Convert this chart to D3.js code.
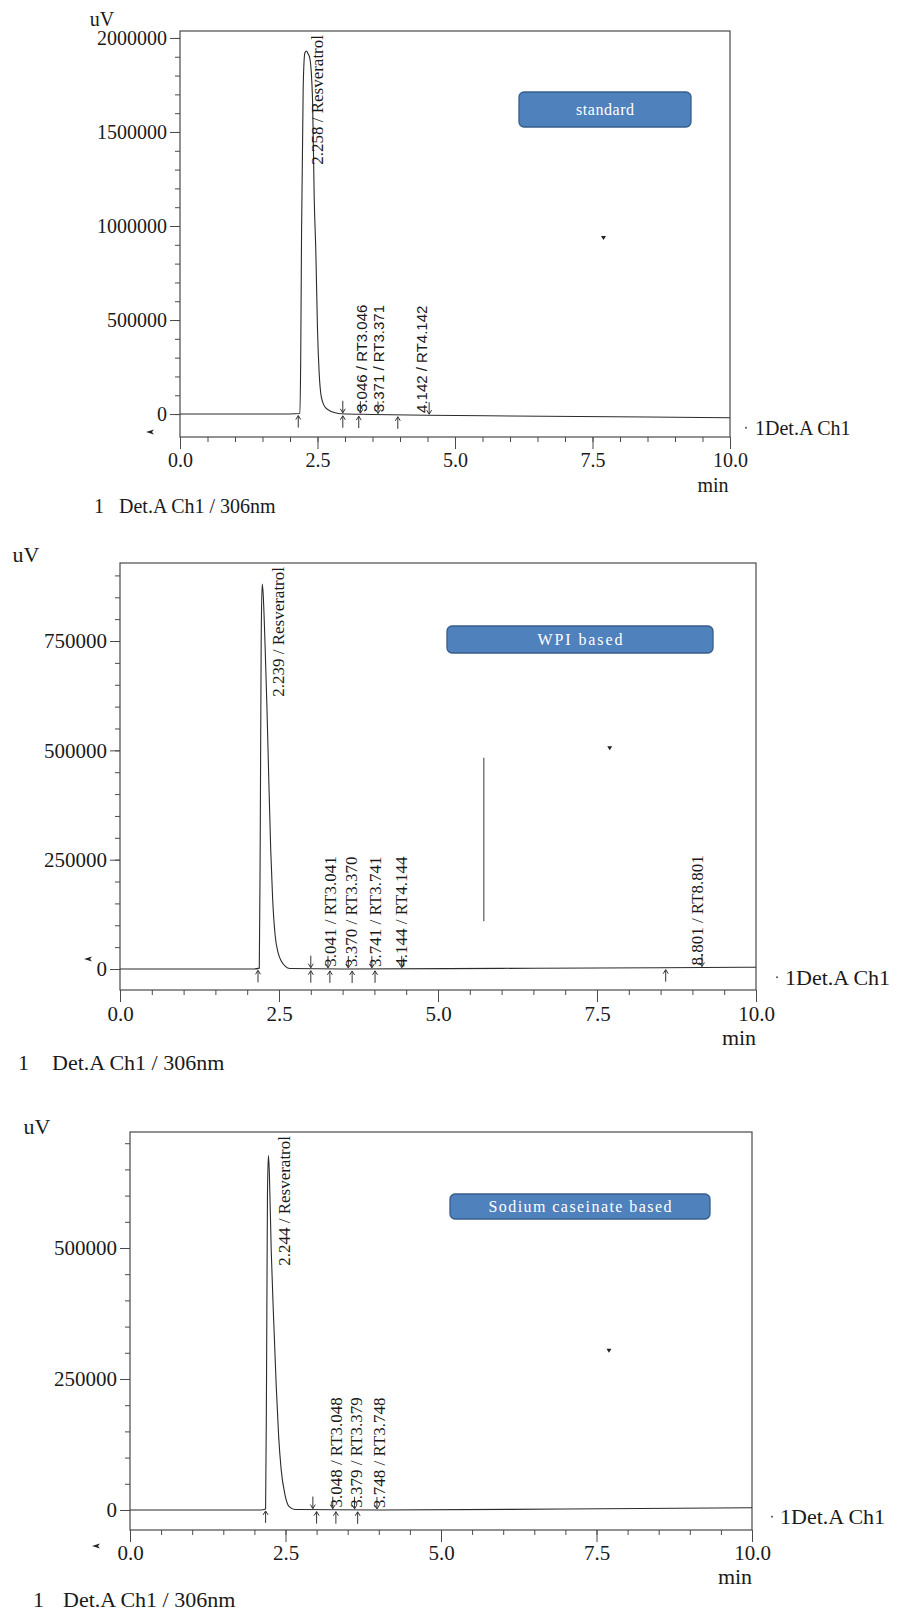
<!DOCTYPE html>
<html>
<head>
<meta charset="utf-8">
<title>Resveratrol HPLC chromatograms</title>
<script src="https://cdn.jsdelivr.net/npm/d3@7"></script>
<style>
  body { margin: 0; background: #fff; }
  svg { display: block; }
</style>
</head>
<body>
<div id="chart"></div>
<script>
// time axis (min)
const timeTicks = [0, 2.5, 5, 7.5, 10];
const timeMinorTicks = [0, 0.5, 1, 1.5, 2, 2.5, 3, 3.5, 4, 4.5, 5, 5.5, 6, 6.5, 7, 7.5, 8, 8.5, 9, 9.5, 10];

// signal axis ticks (uV)
const stdYTicks = [0, 500000, 1000000, 1500000, 2000000];
const wpiYTicks = [0, 250000, 500000, 750000];
const scYTicks = [0, 250000, 500000];

// standard trace
const stdTime   = [0, 2.0, 2.18, 2.195, 2.21, 2.24, 2.27, 2.30, 2.33, 2.36, 2.41, 2.44, 2.47, 2.50, 2.53, 2.57, 2.63, 2.72, 2.82, 2.94, 3.5, 4.5, 6.0, 8.5, 10.0];
const stdSignal = [0, 500, 3000, 300000, 962000, 1740000, 1920000, 1931000, 1915000, 1893000, 1670000, 1150000, 860000, 450000, 220000, 90000, 40000, 18000, 7000, 1500, -2000, -6000, -10000, -16000, -20000];

// WPI based trace
const wpiTime   = [0, 2.1, 2.19, 2.205, 2.22, 2.235, 2.25, 2.28, 2.31, 2.34, 2.37, 2.40, 2.44, 2.49, 2.54, 2.60, 2.67, 3.5, 6.0, 8.5, 10.0];
const wpiSignal = [0, 0, 2000, 300000, 750000, 880000, 860000, 745000, 600000, 430000, 272000, 160000, 76000, 35000, 17000, 6000, 1000, 0, 1500, 3000, 4000];

// sodium caseinate based trace
const scTime   = [0, 2.1, 2.18, 2.195, 2.21, 2.225, 2.24, 2.27, 2.31, 2.35, 2.39, 2.43, 2.49, 2.56, 2.65, 4.0, 7.0, 10.0];
const scSignal = [0, 0, 2000, 250000, 600000, 677000, 645000, 497000, 362000, 239000, 140000, 77500, 30000, 6300, 1000, 0, 2000, 4400];

// peak tables (retention time / name)
const stdPeakRT = [2.258, 3.046, 3.371, 4.142];
const stdPeakNames = ["Resveratrol", "RT3.046", "RT3.371", "RT4.142"];
const wpiPeakRT = [2.239, 3.041, 3.370, 3.741, 4.144, 8.801];
const wpiPeakNames = ["Resveratrol", "RT3.041", "RT3.370", "RT3.741", "RT4.144", "RT8.801"];
const scPeakRT = [2.244, 3.048, 3.379, 3.748];
const scPeakNames = ["Resveratrol", "RT3.048", "RT3.379", "RT3.748"];

// integration marks: peak start (arrow up) and peak end (arrow down)
const stdStartMarks = [2.15, 2.96, 3.25, 3.96];
const stdEndMarks = [2.96, 3.28, 3.60, 4.53];
const wpiStartMarks = [2.17, 3.00, 3.30, 3.65, 4.01, 8.58];
const wpiEndMarks = [3.00, 3.27, 3.59, 3.96, 4.43, 9.15];
const scStartMarks = [2.18, 3.00, 3.31, 3.66];
const scEndMarks = [2.94, 3.26, 3.61, 3.97];

// cursor marks left on the plots [time, uV]
const cursorMarks = [[7.7, 936000], [7.7, 505000], [7.7, 304000]];
// the stray vertical stroke in the WPI plot [time, from uV, to uV]
const wpiStroke = [5.72, 109000, 483000];

const sampleTags = ["standard", "WPI based", "Sodium caseinate based"];
const channelName = "1Det.A Ch1";
const legendText = "Det.A Ch1 / 306nm";

const serif = '"Liberation Serif", "Times New Roman", serif';
const sans = '"Liberation Sans", Arial, sans-serif';

const panels = [
    { time: stdTime, signal: stdSignal, yTicks: stdYTicks, yMinor: 100000, yDomain: [-122000, 2037000],
      rt: stdPeakRT, names: stdPeakNames, starts: stdStartMarks, ends: stdEndMarks,
      left: 180, right: 730, top: 31, bottom: 437, font: 20, textFont: 20, xPad: 4, minGap: 48,
      peakFont: sans, peakSize: 15, shift: 19, bigShift: 19,
      uv: [102, 19], legend: [94, 119, 506], chan: [16, 25, 10],
      box: [519, 92, 172, 35, 58], dart: [150, 432] },
    { time: wpiTime, signal: wpiSignal, yTicks: wpiYTicks, yMinor: 50000, yDomain: [-48000, 928400],
      rt: wpiPeakRT, names: wpiPeakNames, starts: wpiStartMarks, ends: wpiEndMarks,
      left: 120, right: 756, top: 563, bottom: 990, font: 21, textFont: 22, xPad: 4, minGap: 47,
      peakFont: serif, peakSize: 17, shift: 23, bigShift: 22,
      uv: [26, 554], legend: [18, 52, 1062], chan: [21, 29, 10],
      box: [447, 626, 266, 27, 85], dart: [88, 959] },
    { time: scTime, signal: scSignal, yTicks: scYTicks, yMinor: 50000, yDomain: [-38200, 721400],
      rt: scPeakRT, names: scPeakNames, starts: scStartMarks, ends: scEndMarks,
      left: 130, right: 752, top: 1132, bottom: 1530, font: 21, textFont: 22, xPad: 3, minGap: 46,
      peakFont: serif, peakSize: 17, shift: 22, bigShift: 20,
      uv: [37, 1126], legend: [33, 63, 1599], chan: [20, 28, 9],
      box: [450, 1194, 260, 25, 183], dart: [96, 1546] }
];

const svg = d3.select("#chart").append("svg")
    .attr("width", 899)
    .attr("height", 1611);

svg.append("rect").attr("width", 899).attr("height", 1611).attr("fill", "#fff");

function arrow(g, x, y, up) {
    // up arrow sits under the baseline, down arrow above it
    const d = up
        ? `M${x},${y + 14}L${x},${y + 2}M${x - 2.5},${y + 6}L${x},${y + 2}L${x + 2.5},${y + 6}`
        : `M${x},${y - 13}L${x},${y - 1}M${x - 2.5},${y - 5}L${x},${y - 1}L${x + 2.5},${y - 5}`;
    g.append("path").attr("d", d).attr("fill", "none").attr("stroke", "#333").attr("stroke-width", 1);
}

panels.forEach(function(p, i) {
    const x = d3.scaleLinear().domain([0, 10]).range([p.left, p.right]);
    const y = d3.scaleLinear().domain(p.yDomain).range([p.bottom, p.top]);
    const sig = d3.scaleLinear().domain(p.time).range(p.signal);
    const g = svg.append("g");

    // plot frame
    g.append("rect")
        .attr("x", p.left).attr("y", p.top)
        .attr("width", p.right - p.left).attr("height", p.bottom - p.top)
        .attr("fill", "none").attr("stroke", "#4a4a4a").attr("stroke-width", 1.2);

    // time axis
    const xMinor = d3.axisBottom(x).tickValues(timeMinorTicks).tickSize(5).tickFormat("");
    const xMajor = d3.axisBottom(x).tickValues(timeTicks).tickSize(12).tickPadding(p.xPad).tickFormat(d3.format(".1f"));
    g.append("g").attr("transform", `translate(0,${p.bottom})`).call(xMinor)
        .call(s => s.select(".domain").remove());
    g.append("g").attr("transform", `translate(0,${p.bottom})`).call(xMajor)
        .attr("font-family", serif).attr("font-size", p.font)
        .call(s => s.select(".domain").remove());

    // signal axis
    const yMinor = d3.axisLeft(y).tickValues(d3.range(0, p.yDomain[1], p.yMinor)).tickSize(5).tickFormat("");
    const yMajor = d3.axisLeft(y).tickValues(p.yTicks).tickSize(10).tickPadding(3).tickFormat(d3.format("d"));
    g.append("g").attr("transform", `translate(${p.left},0)`).call(yMinor)
        .call(s => s.select(".domain").remove());
    g.append("g").attr("transform", `translate(${p.left},0)`).call(yMajor)
        .attr("font-family", serif).attr("font-size", p.font)
        .call(s => s.select(".domain").remove());

    g.selectAll(".tick line").attr("stroke", "#4a4a4a");
    g.selectAll(".tick text").attr("fill", "#1a1a1a");

    // chromatogram
    const line = d3.line()
        .x(d => x(d[0]))
        .y(d => y(d[1]))
        .curve(d3.curveMonotoneX);
    g.append("path")
        .datum(d3.zip(p.time, p.signal))
        .attr("d", line)
        .attr("fill", "none")
        .attr("stroke", "#2b2b2b")
        .attr("stroke-width", 1.1);

    // integration marks
    p.starts.forEach(t => arrow(g, x(t), y(sig(t)), true));
    p.ends.forEach(t => arrow(g, x(t), y(sig(t)), false));

    // peak labels, main peak hangs from the top
    p.rt.forEach(function(rt, k) {
        const big = k === 0;
        const ax = x(rt) + (big ? p.bigShift : p.shift);
        const ay = big ? p.top + 4 : y(sig(rt)) - 2;
        g.append("text")
            .attr("transform", `translate(${ax},${ay}) rotate(-90)`)
            .attr("text-anchor", big ? "end" : "start")
            .attr("font-family", big ? serif : p.peakFont)
            .attr("font-size", big ? 17 : p.peakSize)
            .attr("fill", "#1a1a1a")
            .text(rt.toFixed(3) + " / " + p.names[k]);
    });

    // sample tag
    const b = p.box;
    g.append("rect")
        .attr("x", b[0]).attr("y", b[1]).attr("width", b[2]).attr("height", b[3])
        .attr("rx", 5)
        .attr("fill", "#4f81bd").attr("stroke", "#385d8a").attr("stroke-width", 1.3);
    g.append("text")
        .attr("x", b[0] + b[2] / 2).attr("y", b[1] + b[3] / 2)
        .attr("text-anchor", "middle").attr("dominant-baseline", "central")
        .attr("font-family", serif).attr("font-size", 16)
        .attr("textLength", b[4]).attr("lengthAdjust", "spacing")
        .attr("fill", "#fff")
        .text(sampleTags[i]);

    // channel name at the end of the trace
    const yEnd = y(sig(10));
    g.append("path")
        .attr("d", `M${p.right},${yEnd}Q${p.right + 6},${yEnd}${p.right + 11},${yEnd + 5}`)
        .attr("fill", "none").attr("stroke", "#555").attr("stroke-width", 1);
    g.append("circle").attr("cx", p.right + p.chan[0]).attr("cy", yEnd + p.chan[2]).attr("r", 1).attr("fill", "#555");
    g.append("text")
        .attr("x", p.right + p.chan[1]).attr("y", yEnd + p.chan[2])
        .attr("dominant-baseline", "central")
        .attr("font-family", serif).attr("font-size", p.textFont)
        .attr("fill", "#1a1a1a")
        .text(channelName);

    // units
    g.append("text")
        .attr("x", p.uv[0]).attr("y", p.uv[1])
        .attr("text-anchor", "middle").attr("dominant-baseline", "central")
        .attr("font-family", serif).attr("font-size", p.textFont).attr("fill", "#1a1a1a")
        .text("uV");
    g.append("text")
        .attr("x", p.right - 17).attr("y", p.bottom + p.minGap)
        .attr("text-anchor", "middle").attr("dominant-baseline", "central")
        .attr("font-family", serif).attr("font-size", p.textFont).attr("fill", "#1a1a1a")
        .text("min");

    // detector legend
    g.append("text")
        .attr("x", p.legend[0]).attr("y", p.legend[2])
        .attr("dominant-baseline", "central")
        .attr("font-family", serif).attr("font-size", p.textFont).attr("fill", "#1a1a1a")
        .text("1");
    g.append("text")
        .attr("x", p.legend[1]).attr("y", p.legend[2])
        .attr("dominant-baseline", "central")
        .attr("font-family", serif).attr("font-size", p.textFont).attr("fill", "#1a1a1a")
        .text(legendText);

    // small marks left on the scan
    const cm = cursorMarks[i];
    g.append("path")
        .attr("transform", `translate(${x(cm[0])},${y(cm[1])})`)
        .attr("d", "M-2.5,-2L2.5,-2L0,2Z")
        .attr("fill", "#222");
    g.append("path")
        .attr("transform", `translate(${p.dart[0]},${p.dart[1]})`)
        .attr("d", "M-4,0L4,-2.5L2,0L4,2.5Z")
        .attr("fill", "#222");
});

// stray stroke in the WPI panel
(function() {
    const p = panels[1];
    const x = d3.scaleLinear().domain([0, 10]).range([p.left, p.right]);
    const y = d3.scaleLinear().domain(p.yDomain).range([p.bottom, p.top]);
    svg.append("line")
        .attr("x1", x(wpiStroke[0])).attr("x2", x(wpiStroke[0]))
        .attr("y1", y(wpiStroke[1])).attr("y2", y(wpiStroke[2]))
        .attr("stroke", "#666").attr("stroke-width", 1.3);
})();
</script>
</body>
</html>
